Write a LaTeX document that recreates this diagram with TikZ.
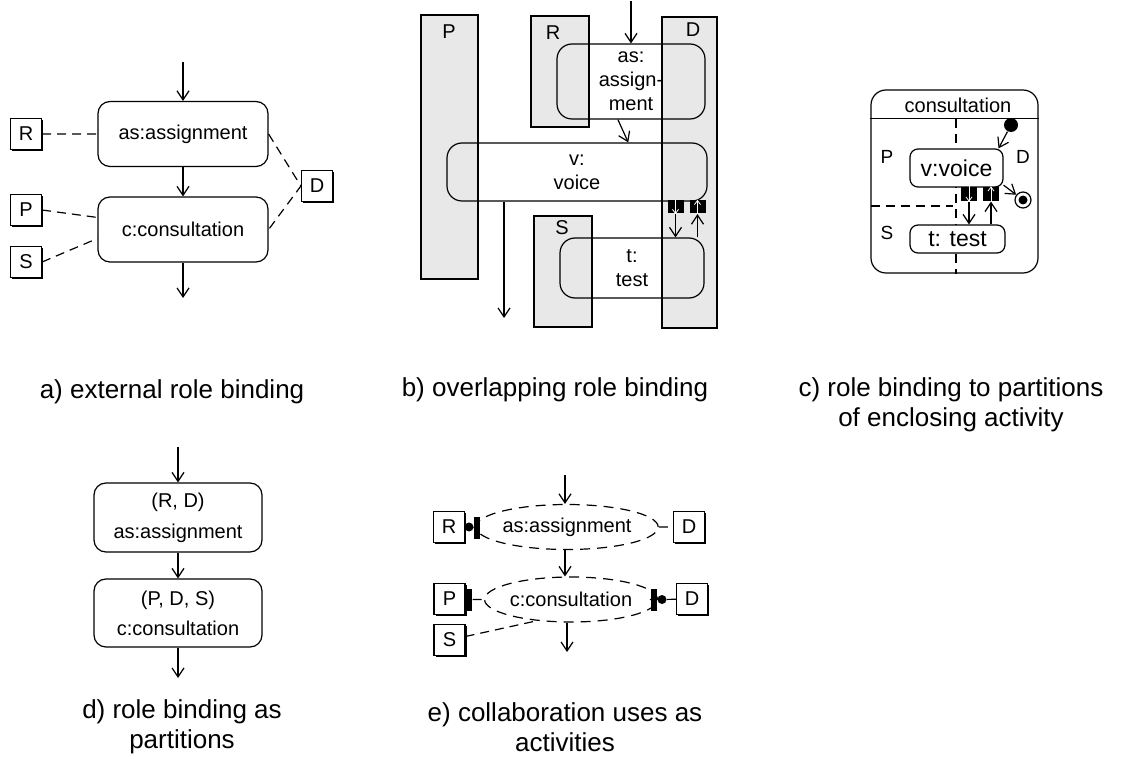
\documentclass[tikz,border=0pt]{standalone}
\usepackage{fontspec}
\setmainfont{Liberation Sans}
\usetikzlibrary{arrows.meta,shapes.geometric,shadows}

\begin{document}
\begin{tikzpicture}[x=1pt,y=-1pt,line width=1.2pt,
	>={Straight Barb[length=9pt,width=12pt]},
	font=\fontsize{20}{24}\selectfont,
	act/.style={draw,rounded corners=12pt,align=center,inner sep=0pt},
	role/.style={draw,fill=white,minimum size=31pt,inner sep=0pt,
		drop shadow={shadow xshift=1.5pt,shadow yshift=-1.5pt,opacity=1,fill=black}},
	part/.style={draw,fill=black!9,inner sep=0pt},
	pin/.style={fill=black,minimum width=16pt,minimum height=13pt,inner sep=0pt},
	pinarr/.style={white,line width=0.8pt,-{Straight Barb[length=4pt,width=6pt]}},
	use/.style={draw,ellipse,dash pattern=on 10pt off 7pt,inner sep=0pt},
	dsh/.style={dash pattern=on 9pt off 6pt},
	ball/.style={circle,fill=black,minimum size=9pt,inner sep=0pt},
	sock/.style={fill=black,minimum width=6pt,minimum height=22pt,inner sep=0pt},
	sub/.style={font=\fontsize{26}{30}\selectfont,align=center}]
\useasboundingbox (0,0) rectangle (1128,759);

\node[act,minimum width=170pt,minimum height=65pt](aA) at (183,134){as:assignment};
\node[act,minimum width=170pt,minimum height=65pt](aC) at (183,229.5){c:consultation};
\node[role](aR) at (26,134){R};
\node[role](aP) at (26,210){P};
\node[role](aS) at (26,262){S};
\node[role](aD) at (317,186){D};
\coordinate(a0) at (183,62);
\coordinate(a1) at (183,298);
\draw[->](a0)--(aA);
\draw[->](aA)--(aC);
\draw[->](aC)--(a1);
\draw[dsh](aR)--(aA) (aP.east)--(aC.172) (aS.east)--(aC.186)
	(aA.east)--(aD.west)--(aC.east);
\node[sub](aT) at (172,392){a) external role binding};

\node[part,minimum width=57pt,minimum height=264pt](bP) at (449.5,147){};
\node[part,minimum width=58pt,minimum height=111pt](bR) at (560,71.5){};
\node[part,minimum width=55pt,minimum height=311pt](bD) at (689.5,172.5){};
\node[part,minimum width=58pt,minimum height=111pt](bS) at (563,271.5){};
\node(bPl) at (449,32){P};
\node(bRl) at (553,33){R};
\node(bDl) at (693,30){D};
\node(bSl) at (562,228){S};
\node[act,rounded corners=15pt,minimum width=148pt,minimum height=75pt](bA) at (631,81.5){as:\\assign-\\ment};
\node[act,rounded corners=15pt,minimum width=260pt,minimum height=58pt](bV) at (577,172){v:\\voice};
\node[act,rounded corners=15pt,minimum width=144pt,minimum height=60pt](bT) at (632,268){t:\\test};
\node[pin](bPo) at (675.5,207){};
\node[pin](bPi) at (697.5,207){};
\coordinate(b0) at (631,1);
\coordinate(b1) at (504,318);
\draw[->](b0)--(bA.north);
\draw[->](bA.251)--(bV.30);
\draw[->](b1|-bV.south)--(b1);
\draw[pinarr](bPo.north)--(bPo.south);
\draw[pinarr](bPi.south)--(bPi.north);
\draw[->](bPo)--(bPo|-bT.north);
\draw[->](bPi|-bT.north)--(bPi.south);
\node[sub](bTl) at (555,390){b) overlapping role binding};

\node[draw,rounded corners=15pt,minimum width=167pt,minimum height=183pt](cF) at (954.5,181.5){};
\draw([yshift=-29pt]cF.north west)--([yshift=-29pt]cF.north east);
\node(cFl) at (958,105){consultation};
\coordinate(c0) at (956,119);
\coordinate(c1) at (871,206);
\draw[dsh](c0)--(c0|-cF.south) (c1)--(953,206);
\node[font=\fontsize{19}{22}\selectfont](cPl) at (887,157){P};
\node[font=\fontsize{19}{22}\selectfont](cDl) at (1023,157){D};
\node[font=\fontsize{19}{22}\selectfont](cSl) at (887,233){S};
\node[act,fill=white,rounded corners=8pt,minimum width=93pt,minimum height=38pt,font=\fontsize{23}{26}\selectfont](cV) at (956.5,168){v:voice};
\node[act,fill=white,rounded corners=8pt,minimum width=95pt,minimum height=28pt,font=\fontsize{23}{26}\selectfont](cT) at (957.5,239){t: test};
\node[pin,minimum height=14pt](cPo) at (969,194){};
\node[pin,minimum height=14pt](cPi) at (991,194){};
\draw[pinarr](cPo.north)--(cPo.south);
\draw[pinarr](cPi.south)--(cPi.north);
\draw[->](cPo)--(cPo|-cT.north);
\draw[->](cPi|-cT.north)--(cPi.south);
\node[circle,fill=black,minimum size=14pt,inner sep=0pt](cI) at (1011,125){};
\node[circle,draw,fill=white,minimum size=16pt,inner sep=0pt](cE) at (1023,200){};
\node[ball](cEi) at (cE){};
\draw[->](cI)--(cV.25);
\draw[->](cV.-20)--(cE);
\node[sub](cTl) at (951,405){c) role binding to partitions\\of enclosing activity};

\node[act,minimum width=168pt,minimum height=69pt](dA) at (178,517.5){(R, D)\\[7pt]as:assignment};
\node[act,minimum width=168pt,minimum height=68pt](dC) at (178,613){(P, D, S)\\[6pt]c:consultation};
\coordinate(d0) at (178,447);
\coordinate(d1) at (178,678);
\draw[->](d0)--(dA);
\draw[->](dA)--(dC);
\draw[->](dC)--(d1);
\node[sub](dTl) at (182,727){d) role binding as\\partitions};

\node[use,minimum width=150pt,minimum height=45pt](eA) at (567,527){as:assignment};
\node[use,minimum width=152pt,minimum height=45pt](eC) at (571,599.5){c:consultation};
\node[role](eR) at (449,527){R};
\node[role](eD) at (689,527){D};
\node[role](eP) at (449.5,599){P};
\node[role](eQ) at (692,599){D};
\node[role](eS) at (449.5,640){S};
\node[ball](eRb) at (469,527){};
\node[sock](eRs) at (477,527.5){};
\node[sock,minimum width=5pt](ePs) at (469.5,599.5){};
\node[sock](eQs) at (653.5,599.5){};
\node[ball](eQb) at (662,599.5){};
\coordinate(e0) at (565,475);
\coordinate(e1) at (567,652);
\draw[->](e0)--(eA.north-|e0);
\draw[->](eA.south-|e0)--(eC.north-|e0);
\draw[->](eC.south-|e1)--(e1);
\draw[dsh](eRs)--(eA) (eA)--(eD) (ePs)--(eC) (eS)--(eC.212);
\draw(eC)--(eQs) (eQb)--(eQ);
\node[sub](eTl) at (565,727){e) collaboration uses as\\activities};
\end{tikzpicture}
\end{document}
